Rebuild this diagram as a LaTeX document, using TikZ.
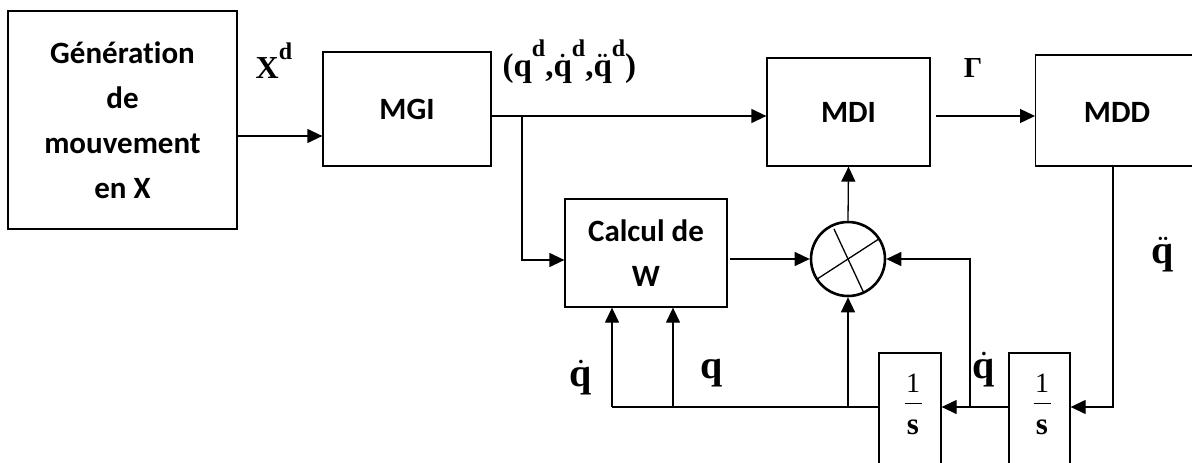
\documentclass[tikz,border=0pt]{standalone}
\usepackage{fontspec}
\setmainfont{Liberation Serif}
\newfontfamily\boxfont[Ligatures=NoCommon]{Carlito}
\usetikzlibrary{arrows.meta}
\newcommand\mysupd[1]{\raisebox{0.58em}{\fontsize{#1}{#1}\selectfont d}}
\newcommand\myqdot{{\boldmath$\dot{\mbox{q}}$}}
\newcommand\myqddot{{\boldmath$\ddot{\mbox{q}}$}}
\begin{document}
\begin{tikzpicture}[x=1pt,y=-1pt,line width=1.3pt,
  blk/.style={draw,line width=1.3pt,inner sep=0pt,align=center,
    font=\boxfont\bfseries\fontsize{31}{45}\selectfont},
  intg/.style={draw,line width=1.3pt,inner sep=0pt,minimum height=140},
  lbl/.style={inner sep=0pt,anchor=base,font=\bfseries\fontsize{40}{40}\selectfont},
  one/.style={inner sep=0pt,anchor=base,font=\fontsize{28}{28}\selectfont},
  den/.style={inner sep=0pt,anchor=base,font=\bfseries\fontsize{31}{31}\selectfont},
  arr/.style={-{Triangle[length=15pt,width=14pt]}},
]
\clip (0,0) rectangle (1192,463);
\fill[white] (0,0) rectangle (1192,463);
% blocks
\node[blk,minimum width=229,minimum height=218] (gen) at (122.5,120)
  {Génération\\de\\mouvement\\en X};
\node[blk,minimum width=168,minimum height=114] (mgi) at (407,109) {MGI};
\node[blk,minimum width=163,minimum height=108] (mdi) at (848.5,112) {MDI};
\node[blk,minimum width=180,minimum height=111,anchor=west] (mdd) at (1035,110.5) {};
\node[inner sep=0pt,font=\boxfont\bfseries\fontsize{31}{45}\selectfont] (mddt) at (1117,112) {MDD};
\node[blk,minimum width=162,minimum height=108] (calc) at (646,253) {Calcul de\\W};
\node[draw,circle,line width=2.6pt,minimum size=74,inner sep=0pt] (circ) at (848,259) {};
\draw[line width=1.3pt,shorten <=1pt,shorten >=1pt] (circ.33) -- (circ.213);
\draw[line width=1.3pt,shorten <=5pt,shorten >=2pt] (circ.115) -- (circ.295);
\node[intg,minimum width=62] (s1) at (910,423) {};
\node[intg,minimum width=61] (s2) at (1039.5,423) {};
% fractions 1/s
\node[one] (n1) at (913,392) {1};
\node[den] (d1) at (913,434) {s};
\draw[line width=1pt] (904.5,403) -- (921.5,403);
\node[one] (n2) at (1042,392) {1};
\node[den] (d2) at (1042,434) {s};
\draw[line width=1pt] (1033.5,403) -- (1050.5,403);
% connectors
\draw[arr] (gen.east |- 0,136) -- (mgi.west |- 0,136);
\draw[arr] (mgi.east |- 0,116) -- (mdi.west |- 0,116);
\coordinate (br) at (522,116);
\draw[arr] (br) |- (calc.west |- 0,260);
\draw[arr] ([xshift=5pt]mdi.east |- 0,116) -- (mdd.west |- 0,116);
\coordinate (mddo) at (mdd.south -| 1113,0);
\draw[arr] (mddo) |- (s2.east |- 0,407);
\draw[arr] (s2.west |- 0,407) -- (s1.east |- 0,407);
\coordinate (brd) at (970,407);
\draw[arr] (brd) |- (circ.east);
\coordinate (fb1) at (612,407);
\coordinate (fb2) at (673,407);
\coordinate (fb3) at (848,407);
\draw (s1.west |- 0,407) -- (fb1);
\draw[arr] (fb1) -- (calc.south -| fb1);
\draw[arr] (fb2) -- (calc.south -| fb2);
\draw[arr] (fb3) -- (circ.south);
\draw[arr] ([xshift=2pt]calc.east |- circ.west) -- (circ.west);
\draw[arr] (circ.north) -- (mdi.south);
% labels
\node[inner sep=0pt,anchor=base west,font=\bfseries\fontsize{32}{32}\selectfont] (lxd) at (255,78) {X\mysupd{24}};
\node[inner sep=0pt,anchor=base west,font=\bfseries\fontsize{33}{33}\selectfont] (lqd) at (502,76)
  {(q\mysupd{24},\myqdot\mysupd{24},\myqddot\mysupd{24})};
\node[inner sep=0pt,anchor=base,font=\bfseries\fontsize{29}{29}\selectfont] (lgam) at (973,77) {Γ};
\node[lbl] (lqdd) at (1163,263) {\myqddot};
\node[lbl] (lqd2) at (984,378) {\myqdot};
\node[lbl] (lqd1) at (581,386) {\myqdot};
\node[lbl] (lq) at (712,378) {q};
\end{tikzpicture}
\end{document}
